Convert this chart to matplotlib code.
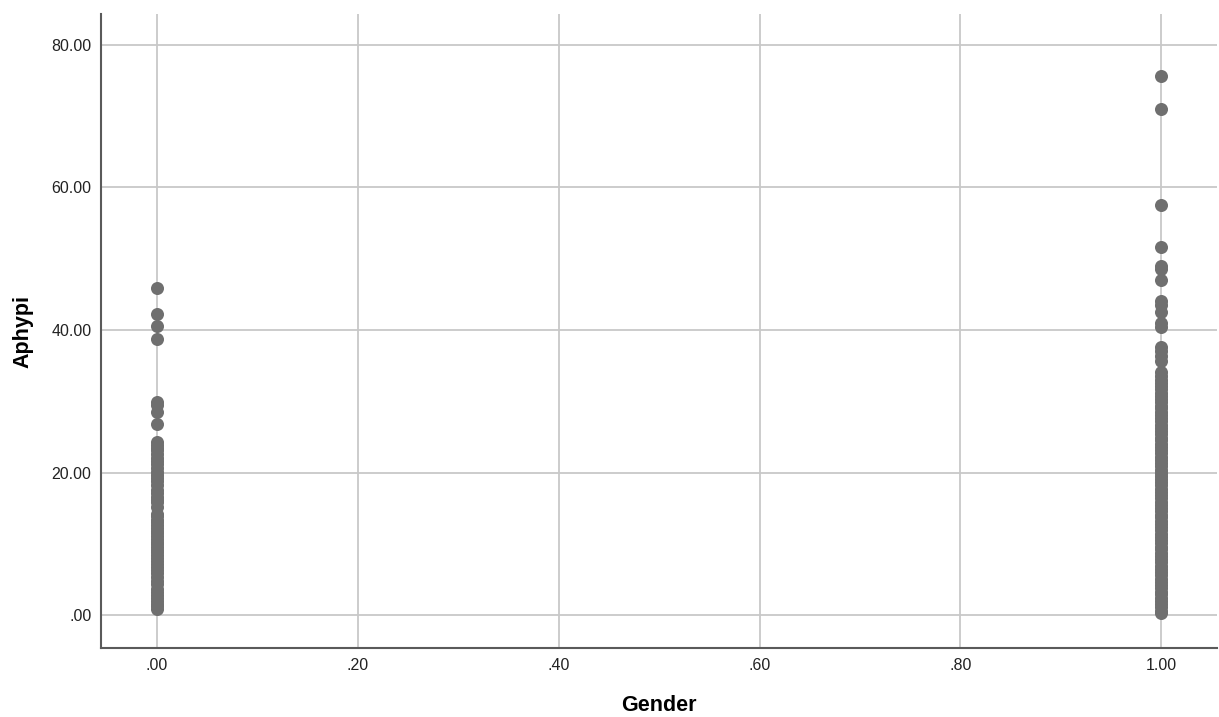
import matplotlib
matplotlib.use("Agg")
import matplotlib.pyplot as plt
from matplotlib.ticker import FuncFormatter

# Aphypi scores by gender group
female_aphypi = [45.9, 42.3, 40.6, 38.7, 29.9, 29.5, 28.5, 26.8, 24.3, 23.9,
                 23.5, 23.1, 22.6, 22.0, 21.6, 21.2, 20.7, 20.1, 19.6, 19.2,
                 18.8, 18.2, 17.5, 17.1, 16.6, 16.2, 15.8, 15.1, 14.2, 13.9,
                 13.4, 13.0, 12.6, 12.2, 11.8, 11.5, 11.1, 10.7, 10.3, 9.9,
                 9.5, 9.1, 8.8, 8.4, 8.0, 7.6, 7.2, 6.8, 6.3, 5.9,
                 5.3, 4.8, 4.4, 3.7, 3.2, 2.8, 2.4, 2.0, 1.6, 1.2, 0.9]
male_aphypi = [75.7, 71.0, 57.5, 51.6, 49.0, 48.6, 47.0, 44.1, 43.5, 42.5,
               41.0, 40.4, 37.6, 37.0, 36.3, 35.6, 34.1, 33.5, 33.0, 32.6,
               32.1, 31.7, 31.2, 30.8, 30.3, 29.9, 29.4, 29.0, 28.5, 28.1,
               27.6, 27.2, 26.7, 26.3, 25.8, 25.4, 24.9, 24.5, 24.0, 23.6,
               23.1, 22.7, 22.2, 21.8, 21.3, 20.9, 20.4, 20.0, 19.5, 19.1,
               18.6, 18.2, 17.7, 17.3, 16.8, 16.4, 15.9, 15.5, 15.0, 14.6,
               14.1, 13.7, 13.2, 12.8, 12.3, 11.9, 11.4, 11.0, 10.5, 10.1,
               9.6, 9.2, 8.7, 8.3, 7.8, 7.4, 6.9, 6.5, 6.0, 5.6,
               5.1, 4.7, 4.2, 3.8, 3.3, 2.9, 2.4, 2.0, 1.5, 1.1, 0.6, 0.3]

x_ticks = [0.0, 0.2, 0.4, 0.6, 0.8, 1.0]
y_ticks = [0, 20, 40, 60, 80]


def spss_fmt(v, pos):
    s = "%.2f" % v
    if s.startswith("0."):
        s = s[1:]
    return s


plt.rcParams["font.family"] = ["Liberation Sans", "DejaVu Sans"]

fig = plt.figure(figsize=(12.19, 7.17), dpi=100)
ax = fig.add_axes([0.0829, 0.0962, 0.9151, 0.8843])

dot = "#6f6f6f"
ax.scatter([0.0] * len(female_aphypi), female_aphypi, s=88, color=dot,
           linewidths=0, zorder=3)
ax.scatter([1.0] * len(male_aphypi), male_aphypi, s=88, color=dot,
           linewidths=0, zorder=3)

ax.set_xlim(-0.0557, 1.055)
ax.set_ylim(-4.63, 84.35)
ax.set_xticks(x_ticks)
ax.set_yticks(y_ticks)
ax.xaxis.set_major_formatter(FuncFormatter(spss_fmt))
ax.yaxis.set_major_formatter(FuncFormatter(spss_fmt))

ax.grid(True, color="#c8c8c8", linewidth=1.3, zorder=0)
ax.set_axisbelow(True)
for side in ["top", "right"]:
    ax.spines[side].set_visible(False)
for side in ["left", "bottom"]:
    ax.spines[side].set_color("#5a5a5a")
    ax.spines[side].set_linewidth(1.5)

ax.tick_params(length=0, labelsize=11.5, colors="#222222", pad=7)
ax.set_xlabel("Gender", fontsize=15.5, fontweight="bold", labelpad=16)
ax.set_ylabel("Aphypi", fontsize=15.5, fontweight="bold", labelpad=13)

fig.savefig("out.png", dpi=100)
